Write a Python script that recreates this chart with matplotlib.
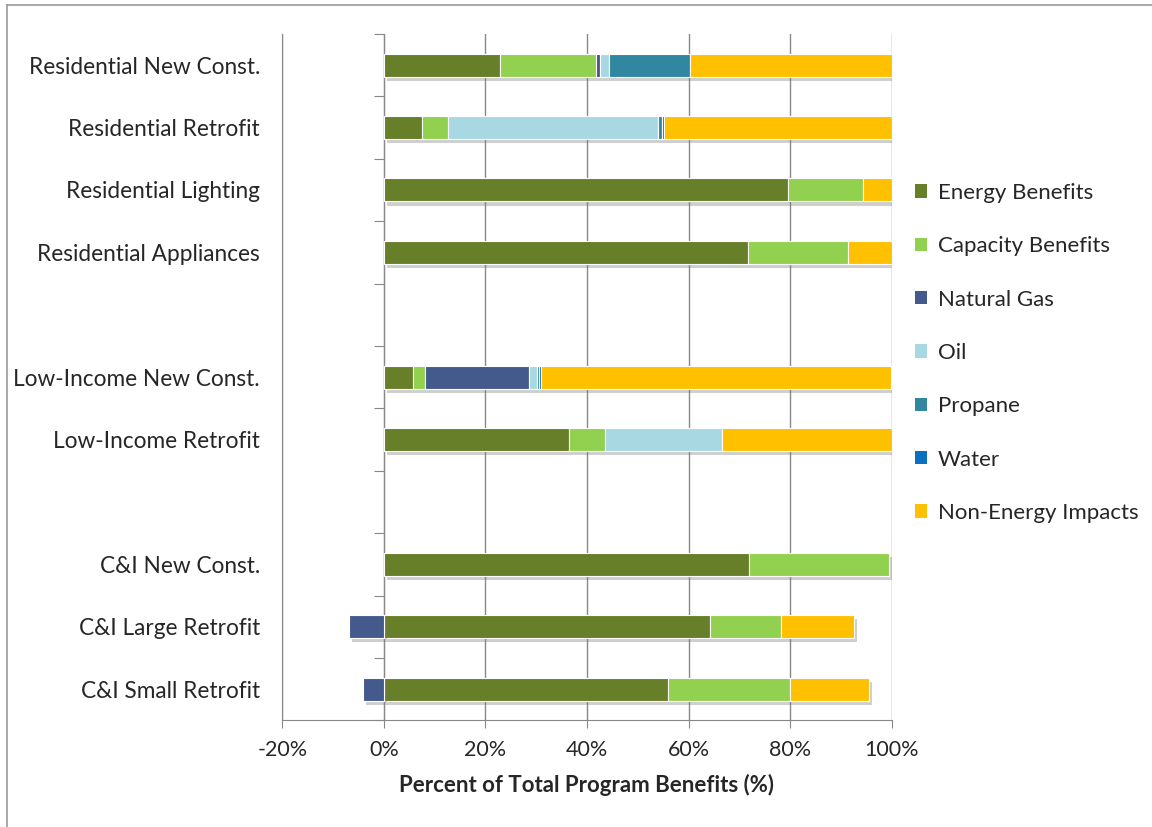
import matplotlib
matplotlib.use('Agg')
import matplotlib.pyplot as plt
import matplotlib.patheffects as pe
from matplotlib.lines import Line2D
from matplotlib.patches import Patch
import numpy as np

# Datos (porcentaje del beneficio total)
categorias = ['Residential New Const.', 'Residential Retrofit', 'Residential Lighting',
              'Residential Appliances', '', 'Low-Income New Const.', 'Low-Income Retrofit',
              '', 'C&I New Const.', 'C&I Large Retrofit', 'C&I Small Retrofit']

energy = [22.8, 7.5, 79.6, 71.7, 0, 5.8, 36.4, 0, 72.0, 64.2, 56.0]
capacity = [18.9, 5.2, 14.7, 19.7, 0, 2.3, 7.2, 0, 27.5, 14.1, 24.0]
natural_gas = [0.9, 0, 0, 0, 0, 20.5, 0, 0, 0, -6.9, -4.1]
oil = [1.8, 41.2, 0, 0, 0, 1.5, 23.0, 0, 0, 0, 0]
propane = [15.8, 0.9, 0, 0, 0, 0.4, 0, 0, 0, 0, 0]
water = [0, 0.3, 0, 0, 0, 0.4, 0, 0, 0, 0, 0]
non_energy = [39.8, 44.9, 5.7, 8.6, 0, 69.0, 33.4, 0, 0, 14.3, 15.5]

series = [
    ('Energy Benefits', energy, '#667f28'),
    ('Capacity Benefits', capacity, '#92d050'),
    ('Natural Gas', natural_gas, '#44598c'),
    ('Oil', oil, '#a8d8e2'),
    ('Propane', propane, '#31879f'),
    ('Water', water, '#0a6fbf'),
    ('Non-Energy Impacts', non_energy, '#ffc000'),
]

plt.rcParams['font.family'] = ['Lato', 'DejaVu Sans']
texto = '#262626'

fig = plt.figure(figsize=(11.52, 8.27), dpi=100)
ax = fig.add_axes([0.245, 0.129, 0.529, 0.83])

y = np.arange(len(categorias))
pos = np.zeros(len(categorias))
neg = np.zeros(len(categorias))
sombra = [pe.SimplePatchShadow(offset=(2, -3), shadow_rgbFace='#777777', alpha=0.35), pe.Normal()]

for nombre, valores, color in series:
    v = np.array(valores, dtype=float)
    izq = np.where(v >= 0, pos, neg)
    bars = ax.barh(y, v, left=izq, height=0.37, color=color, edgecolor='white',
                   linewidth=0.8, zorder=3)
    for b in bars:
        b.set_path_effects(sombra)
        b.set_visible(b.get_width() != 0)  # no dibujar segmentos vacios
    pos = pos + np.where(v > 0, v, 0)
    neg = neg + np.where(v < 0, v, 0)

ax.set_xlim(-20, 100)
ax.set_ylim(len(categorias) - 0.5, -0.5)
ax.set_xticks(np.arange(-20, 101, 20))
ax.set_xticklabels([f'{t}%' for t in range(-20, 101, 20)], fontsize=15.5, color=texto)
ax.set_yticks(y)
ax.set_yticklabels(categorias, fontsize=16.3, color=texto)
ax.tick_params(axis='y', length=0, pad=16)
ax.tick_params(axis='x', length=6, color='#888888', pad=8)
ax.grid(axis='x', color='#888888', linewidth=1, zorder=0)
ax.set_axisbelow(True)

for s in ['top', 'right']:
    ax.spines[s].set_visible(False)
ax.spines['left'].set_color('#888888')
ax.spines['bottom'].set_color('#888888')

# eje vertical en 0% con marcas entre categorias
eje0 = ax.secondary_yaxis(1 / 6)
eje0.set_yticks(np.arange(-0.5, len(categorias), 1.0))
eje0.set_yticklabels([])
eje0.tick_params(length=7, color='#888888')
eje0.spines['left'].set_color('#888888')

ax.set_xlabel('Percent of Total Program Benefits (%)', fontsize=16, fontweight='bold',
              color=texto, labelpad=10)

handles = [Patch(facecolor=c, edgecolor='none', label=n) for n, _, c in series]
ax.legend(handles=handles, loc='upper left', bbox_to_anchor=(1.005, 0.812), frameon=False,
          fontsize=16, handlelength=0.55, handleheight=0.55, handletextpad=0.5,
          labelspacing=1.5, labelcolor=texto)

# marco de la imagen
fig.add_artist(Line2D([7 / 1152, 1], [1 - 5 / 827, 1 - 5 / 827], color='#999999', lw=1.2))
fig.add_artist(Line2D([7 / 1152, 7 / 1152], [0, 1 - 5 / 827], color='#999999', lw=1.2))

plt.savefig('out.png', dpi=100)
